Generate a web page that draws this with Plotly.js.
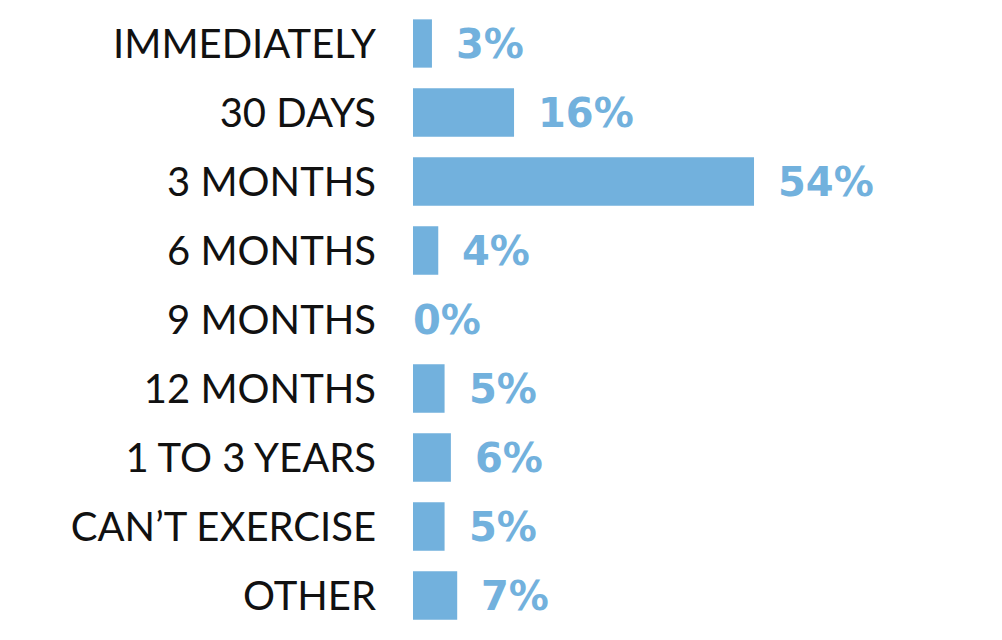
<!DOCTYPE html>
<html>
<head>
<meta charset="utf-8">
<script src="https://cdn.plot.ly/plotly-3.0.1.min.js"></script>
<style>html,body{margin:0;padding:0;background:#fff;}#chart{width:1002px;height:640px;}</style>
</head>
<body>
<div id="chart"></div>
<script>
const categories = ["IMMEDIATELY", "30 DAYS", "3 MONTHS", "6 MONTHS", "9 MONTHS", "12 MONTHS", "1 TO 3 YEARS", "CAN\u2019T EXERCISE", "OTHER"];
const percents = [3, 16, 54, 4, 0, 5, 6, 5, 7];
const valueLabels = percents.map(v => v + "%");

const barColor = "#72b1dd";

const trace = {
  type: "bar",
  orientation: "h",
  x: percents,
  y: categories,
  marker: {color: barColor},
  hoverinfo: "skip"
};

const annotations = percents.map((v, i) => ({
  x: v, y: categories[i], xref: "x", yref: "y",
  text: valueLabels[i], showarrow: false,
  xanchor: "left", yanchor: "middle", xshift: v === 0 ? -2 : 22,
  font: {family: "DejaVu Sans, sans-serif", size: 40, color: barColor, weight: 700}
}));

const layout = {
  width: 1002, height: 640,
  margin: {l: 413, r: 8, t: 9, b: 10},
  paper_bgcolor: "#ffffff", plot_bgcolor: "#ffffff",
  showlegend: false,
  bargap: 0.3,
  xaxis: {range: [0, 92], showgrid: false, zeroline: false, showticklabels: false, showline: false, fixedrange: true},
  yaxis: {
    autorange: "reversed", showgrid: false, zeroline: false, showline: false, ticks: "",
    ticklabelstandoff: 36,
    tickfont: {family: "Lato, 'Noto Sans', sans-serif", size: 40, color: "#111111"},
    fixedrange: true
  },
  annotations: annotations
};

Plotly.newPlot("chart", [trace], layout, {displayModeBar: false, staticPlot: true});
</script>
</body>
</html>
